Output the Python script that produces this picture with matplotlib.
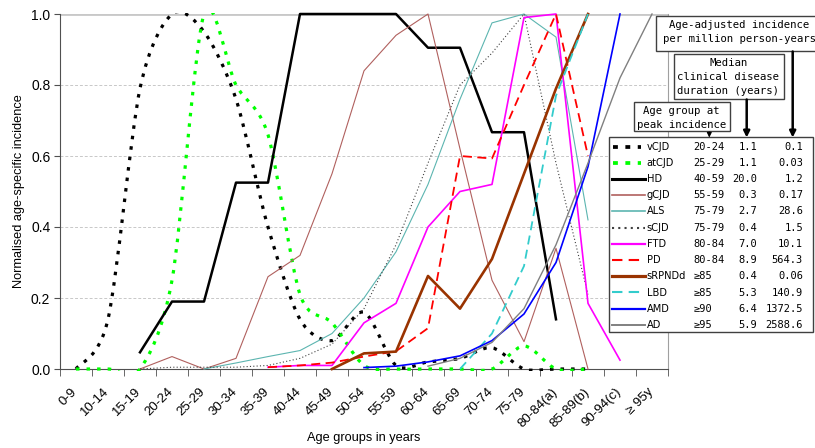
import numpy as np
import matplotlib
matplotlib.use("Agg")
import matplotlib.pyplot as plt
from matplotlib.path import Path
from matplotlib.patches import PathPatch, Rectangle
from matplotlib.transforms import Bbox, TransformedBbox, ScaledTranslation

nan = np.nan

age_groups = ['0-9', '10-14', '15-19', '20-24', '25-29', '30-34', '35-39', '40-44',
              '45-49', '50-54', '55-59', '60-64', '65-69', '70-74', '75-79',
              '80-84(a)', '85-89(b)', '90-94(c)', '\u2265 95y']

# normalised age-specific incidence, one value per age group (nan = not plotted)
vcjd = [0, 0.14, 0.79, 1.0, 0.95, 0.76, 0.40, 0.14, 0.08, 0.16, 0.01, 0.02, 0.03,
        0.06, 0.0, 0.0, 0.0, nan, nan]
atcjd = [0, 0, 0, 0.25, 1.0, 0.80, 0.66, 0.21, 0.13, 0.01, 0, 0, 0, 0, 0.065,
         0, 0, nan, nan]
hd = [nan, nan, 0.047, 0.19, 0.19, 0.525, 0.525, 1.0, 1.0, 1.0, 1.0, 0.905, 0.905,
      0.667, 0.667, 0.14, nan, nan, nan]
gcjd = [nan, nan, 0, 0.035, 0, 0.03, 0.26, 0.32, 0.55, 0.84, 0.94, 1.0, 0.62,
        0.25, 0.077, 0.34, 0, nan, nan]
als = [nan, nan, nan, nan, 0, 0.017, 0.035, 0.052, 0.10, 0.20, 0.33, 0.52, 0.76,
       0.975, 1.0, 0.935, 0.42, nan, nan]
scjd = [nan, nan, 0, 0.005, 0.005, 0.005, 0.01, 0.03, 0.07, 0.17, 0.35, 0.58,
        0.80, 0.89, 1.0, 0.58, 0.21, nan, nan]
ftd = [nan, nan, nan, nan, nan, nan, 0.005, 0.01, 0.01, 0.13, 0.185, 0.40, 0.50,
       0.52, 0.99, 1.0, 0.185, 0.025, nan]
pd_ = [nan, nan, nan, nan, nan, nan, 0.005, 0.01, 0.018, 0.035, 0.05, 0.115, 0.60,
       0.593, 0.80, 1.0, 0.60, nan, nan]
srpndd = [nan, nan, nan, nan, nan, nan, nan, nan, 0, 0.044, 0.049, 0.262, 0.17,
          0.31, 0.55, 0.79, 1.0, nan, nan]
lbd = [nan, nan, nan, nan, nan, nan, nan, nan, nan, nan, nan, nan, 0, 0.10, 0.29,
       0.77, 1.0, nan, nan]
amd = [nan, nan, nan, nan, nan, nan, nan, nan, nan, 0.004, 0.008, 0.02, 0.037,
       0.08, 0.155, 0.30, 0.57, 1.0, nan]
ad = [nan, nan, nan, nan, nan, nan, nan, nan, nan, nan, nan, 0.008, 0.03, 0.075,
      0.17, 0.35, 0.58, 0.82, 1.0]

names = ['vCJD', 'atCJD', 'HD', 'gCJD', 'ALS', 'sCJD', 'FTD', 'PD', 'sRPNDd',
         'LBD', 'AMD', 'AD']
peak_age = ['20-24', '25-29', '40-59', '55-59', '75-79', '75-79', '80-84', '80-84',
            '\u226585', '\u226585', '\u226590', '\u226595']
duration = ['1.1', '1.1', '20.0', '0.3', '2.7', '0.4', '7.0', '8.9', '0.4', '5.3',
            '6.4', '5.9']
incidence = ['0.1', '0.03', '1.2', '0.17', '28.6', '1.5', '10.1', '564.3', '0.06',
             '140.9', '1372.5', '2588.6']

series = [vcjd, atcjd, hd, gcjd, als, scjd, ftd, pd_, srpndd, lbd, amd, ad]
# colour, linestyle, linewidth, smoothed
styles = [
    ('black', (0, (1.1, 2.2)), 2.3, True),
    ('#00ff00', (0, (1.1, 2.2)), 2.3, True),
    ('black', '-', 1.8, False),
    ('#b0605e', '-', 0.8, False),
    ('#5cb5b0', '-', 0.8, False),
    ('#404040', (0, (1, 2)), 0.8, False),
    ('#ff00ff', '-', 1.2, False),
    ('#ff0000', (0, (5, 3)), 1.3, False),
    ('#993300', '-', 1.9, False),
    ('#33cccc', (0, (5, 3)), 1.3, False),
    ('#0000ff', '-', 1.2, False),
    ('#808080', '-', 1.0, False),
]

plt.rcParams['font.family'] = ['Liberation Sans', 'DejaVu Sans']

fig = plt.figure(figsize=(8.15, 4.48), dpi=100)
W, H = 815, 448
x0, x1, ytop, ybot = 60, 668, 14, 369
ax = fig.add_axes([x0 / W, (H - ybot) / H, (x1 - x0) / W, (ybot - ytop) / H])

n_groups = len(age_groups)
ax.set_xlim(-0.5, n_groups - 0.5)
ax.set_ylim(0, 1)

clip_lines = TransformedBbox(Bbox([[-0.5, -0.01], [n_groups - 0.5, 1.03]]),
                             ax.transData)
clip_smooth = TransformedBbox(Bbox([[-0.5, -0.005], [n_groups - 0.5, 1.004]]),
                              ax.transData)


def smooth_path(xs, ys, k=7.0):
    pts = np.array([(a, b) for a, b in zip(xs, ys) if not np.isnan(b)], float)
    verts = [pts[0]]
    codes = [Path.MOVETO]
    n = len(pts)
    for i in range(n - 1):
        p0 = pts[i - 1] if i > 0 else pts[i]
        p1, p2 = pts[i], pts[i + 1]
        p3 = pts[i + 2] if i + 2 < n else pts[i + 1]
        verts += [p1 + (p2 - p0) / k, p2 - (p3 - p1) / k, p2]
        codes += [Path.CURVE4] * 3
    return Path(verts, codes)


xpos = np.arange(n_groups)
for vals, (col, ls, lw, smooth) in zip(series, styles):
    if smooth:
        patch = PathPatch(smooth_path(xpos, vals), fill=False, edgecolor=col,
                          linestyle=ls, linewidth=lw, zorder=3)
        ax.add_patch(patch)
        patch.set_clip_box(clip_smooth)
    else:
        line, = ax.plot(xpos, vals, color=col, linestyle=ls, linewidth=lw, zorder=3)
        line.set_clip_box(clip_lines)

# grid / frame
for v in [0.2, 0.4, 0.6, 0.8]:
    ax.axhline(v, color='#c8c8c8', lw=0.7, ls=(0, (3, 2)), zorder=1)
ax.axhline(1.0, color='#c8c8c8', lw=2.0, zorder=1)
ax.spines['top'].set_visible(False)
ax.spines['right'].set_color('#a0a0a0')
ax.spines['right'].set_linewidth(0.8)
ax.spines['left'].set_color('#505050')
ax.spines['bottom'].set_color('#505050')

ax.set_yticks([0, 0.2, 0.4, 0.6, 0.8, 1.0])
ax.set_yticklabels(['0.0', '0.2', '0.4', '0.6', '0.8', '1.0'], fontsize=10)
ax.tick_params(axis='y', length=4, color='#505050', pad=3)

ax.set_xticks(xpos)
ax.set_xticklabels(age_groups, rotation=45, ha='right', rotation_mode='anchor',
                   fontsize=9.5)
ax.set_xticks(np.arange(-0.5, n_groups, 1), minor=True)
ax.tick_params(axis='x', which='major', length=0, pad=10)
ax.tick_params(axis='x', which='minor', length=5, color='#505050')
shift = ScaledTranslation(-5 / 100, -3 / 100, fig.dpi_scale_trans)
for lab in ax.get_xticklabels():
    lab.set_transform(lab.get_transform() + shift)

ax.set_ylabel('Normalised age-specific incidence', fontsize=9.2)
ax.yaxis.set_label_coords(-0.057, 0.5)
ax.set_xlabel('Age groups in years', fontsize=9.2)
ax.xaxis.set_label_coords(0.5, -0.194)
ax.xaxis.label.set_va('center')

# overlay in pixel coordinates for the table legend and annotation boxes
ov = fig.add_axes([0, 0, 1, 1], zorder=10)
ov.set_xlim(0, W)
ov.set_ylim(H, 0)
ov.axis('off')

mono = 'DejaVu Sans Mono'
ov.add_patch(Rectangle((608.5, 137.5), 204.5, 195, facecolor='white',
                       edgecolor='#404040', lw=1))
row0, dy = 146.7, 16.2
for i, (nm, (col, ls, lw, smooth)) in enumerate(zip(names, styles)):
    y = row0 + dy * i
    if smooth:
        ov.plot([613, 641], [y, y], color=col, lw=lw + 0.4, ls=(0, (1.3, 2.0)))
    else:
        ov.plot([612, 645], [y, y], color=col,
                lw=max(lw, 1.5) if ls != '-' else lw + 0.4, ls=ls)
    ov.text(646.5, y, nm, fontsize=7.1, va='center', ha='left', family='DejaVu Sans')
    ov.text(693.5, y, peak_age[i], fontsize=7.5, va='center', ha='left', family=mono)
    ov.text(757, y, duration[i], fontsize=7.5, va='center', ha='right', family=mono)
    ov.text(803, y, incidence[i], fontsize=7.5, va='center', ha='right', family=mono)

box_kw = dict(facecolor='white', edgecolor='#404040', lw=1)
ov.add_patch(Rectangle((655.5, 16.5), 180, 35, **box_kw))
ov.text(739.5, 25, 'Age-adjusted incidence', fontsize=7.7, ha='center', va='center',
        family=mono)
ov.text(739.5, 39, 'per million person-years', fontsize=7.7, ha='center',
        va='center', family=mono)

ov.add_patch(Rectangle((673.5, 54.5), 110, 45, **box_kw))
for t, y in zip(['Median', 'clinical disease', 'duration (years)'],
                [62.7, 77.3, 91]):
    ov.text(728.3, y, t, fontsize=7.7, ha='center', va='center', family=mono)

ov.add_patch(Rectangle((633.5, 102.5), 96.5, 29, **box_kw))
for t, y in zip(['Age group at', 'peak incidence'], [110.7, 125.3]):
    ov.text(681.7, y, t, fontsize=7.7, ha='center', va='center', family=mono)

arrow = dict(arrowstyle='-|>', color='black', lw=1.8, mutation_scale=9,
             shrinkA=0, shrinkB=0)
ov.annotate('', xy=(792.7, 137.5), xytext=(792.7, 51.5), arrowprops=arrow)
ov.annotate('', xy=(746.7, 137.5), xytext=(746.7, 99.5), arrowprops=arrow)
ov.annotate('', xy=(709.3, 137.5), xytext=(709.3, 132), arrowprops=dict(
    arrowstyle='-|>', color='black', lw=0.8, mutation_scale=7, shrinkA=0, shrinkB=0))

fig.savefig('out.png', dpi=100)
